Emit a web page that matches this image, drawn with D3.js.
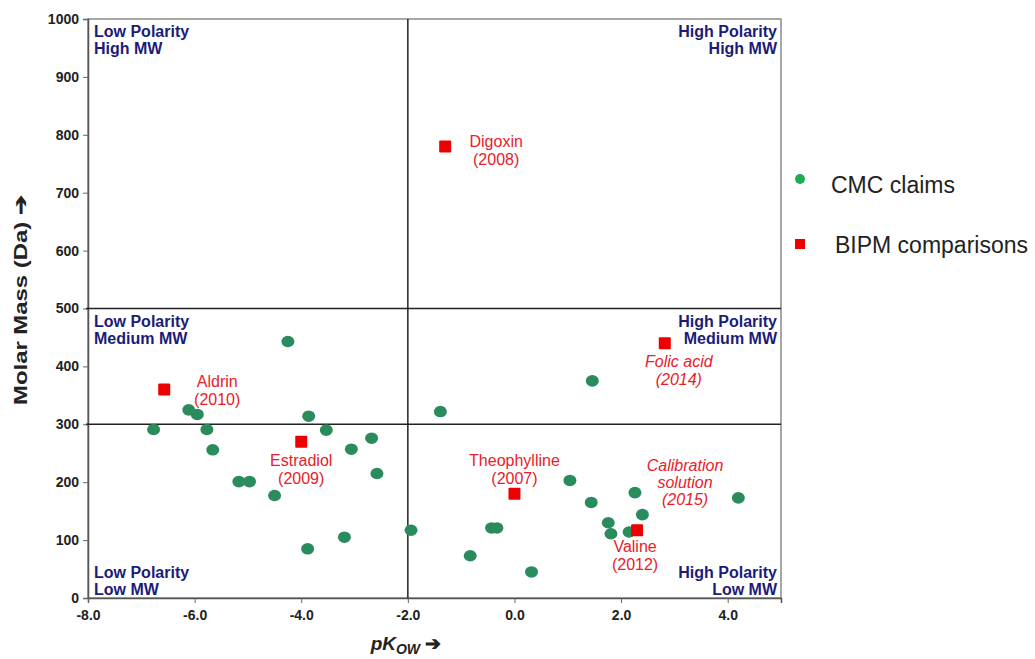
<!DOCTYPE html>
<html>
<head>
<meta charset="utf-8">
<script src="https://cdn.jsdelivr.net/npm/d3@7"></script>
<style>
  body { margin: 0; background: #fff; }
  svg { font-family: Arial, "Liberation Sans", sans-serif; }
</style>
</head>
<body>
<svg width="1035" height="659"></svg>
<script>
// CMC claims (green dots)
var cmcX = [-6.77, -6.11, -5.95, -5.77, -5.66, -5.17, -4.97, -4.50, -4.25, -3.86,
            -3.53, -3.06, -2.68, -2.58, -3.88, -3.19, -1.94, -1.39, -0.83, -0.43,
            -0.33, 0.32, 1.04, 1.46, 1.44, 1.76, 1.81, 2.15, 2.26, 2.40, 4.20];
var cmcY = [291, 325, 317, 291, 256, 201, 201, 177, 443, 314,
            290, 257, 276, 215, 85, 105, 117, 322, 73, 121,
            121, 45, 203, 375, 165, 130, 111, 114, 182, 144, 173];

// BIPM comparisons (red squares)
var bipmNames = ["Digoxin", "Aldrin", "Estradiol", "Theophylline", "Folic acid", "Valine"];
var bipmYears = ["(2008)", "(2010)", "(2009)", "(2007)", "(2014)", "(2012)"];
var bipmX = [-1.3, -6.57, -4.0, 0.0, 2.82, 2.3];
var bipmY = [780, 360, 270, 180, 440, 117];

var xTicks = [-8, -6, -4, -2, 0, 2, 4];
var yTicks = [0, 100, 200, 300, 400, 500, 600, 700, 800, 900, 1000];

// quadrant dividers
var splitX = [-2];
var splitY = [300, 500];

var svg = d3.select("svg");
var pLeft = 88, pRight = 781, pTop = 19, pBottom = 598;

var x = d3.scaleLinear().domain([-8, 5]).range([pLeft, pRight]);
var y = d3.scaleLinear().domain([0, 1000]).range([pBottom, pTop]);

// frame
svg.append("rect")
  .attr("x", pLeft).attr("y", pTop)
  .attr("width", pRight - pLeft).attr("height", pBottom - pTop)
  .attr("fill", "none").attr("stroke", "#8a8a8a").attr("stroke-width", 1.5);

// axes
var yAxis = svg.append("g")
  .attr("transform", "translate(" + pLeft + ",0)")
  .call(d3.axisLeft(y).tickValues(yTicks).tickFormat(function(d) { return String(d); })
    .tickSize(5).tickPadding(4));
var xAxis = svg.append("g")
  .attr("transform", "translate(0," + pBottom + ")")
  .call(d3.axisBottom(x).tickValues(xTicks).tickFormat(function(d) { return d.toFixed(1); })
    .tickSize(5).tickPadding(7));

[xAxis, yAxis].forEach(function(a) {
  a.select(".domain").attr("stroke", "#555").attr("stroke-width", 1.5);
  a.selectAll(".tick line").attr("stroke", "#666");
  a.selectAll("text").attr("font-size", 14).attr("font-weight", "bold").attr("fill", "#222");
});

// quadrant lines
svg.selectAll(".hsplit")
  .data(splitY).enter()
  .append("line")
  .attr("x1", pLeft - 2).attr("x2", pRight)
  .attr("y1", function(d) { return y(d); })
  .attr("y2", function(d) { return y(d); })
  .attr("stroke", "#222").attr("stroke-width", 1.5);
svg.selectAll(".vsplit")
  .data(splitX).enter()
  .append("line")
  .attr("x1", function(d) { return x(d); })
  .attr("x2", function(d) { return x(d); })
  .attr("y1", pTop).attr("y2", pBottom)
  .attr("stroke", "#222").attr("stroke-width", 1.5);

// quadrant labels
var quad = [
  { l: ["Low Polarity", "High MW"], side: "left", v: 1000 },
  { l: ["High Polarity", "High MW"], side: "right", v: 1000 },
  { l: ["Low Polarity", "Medium MW"], side: "left", v: 500 },
  { l: ["High Polarity", "Medium MW"], side: "right", v: 500 },
  { l: ["Low Polarity", "Low MW"], side: "left", v: 66 },
  { l: ["High Polarity", "Low MW"], side: "right", v: 66 }
];
quad.forEach(function(q) {
  var t = svg.append("text")
    .attr("font-size", 16).attr("font-weight", "bold").attr("fill", "#1c1c78")
    .attr("text-anchor", q.side == "left" ? "start" : "end");
  q.l.forEach(function(s, i) {
    t.append("tspan")
      .attr("x", q.side == "left" ? pLeft + 6 : pRight - 4)
      .attr("y", y(q.v) + 18 + i * 17)
      .text(s);
  });
});

// green dots
svg.selectAll(".cmc")
  .data(cmcX).enter()
  .append("ellipse")
  .attr("cx", function(d) { return x(d); })
  .attr("cy", function(d, i) { return y(cmcY[i]); })
  .attr("rx", 6.5).attr("ry", 5.8)
  .attr("fill", "#2a8c5c");

// red squares
var sq = 12;
svg.selectAll(".bipm")
  .data(bipmX).enter()
  .append("rect")
  .attr("x", function(d) { return x(d) - sq / 2; })
  .attr("y", function(d, i) { return y(bipmY[i]) - sq / 2; })
  .attr("width", sq).attr("height", sq)
  .attr("rx", 1)
  .attr("fill", "#ee0000");

// label offsets from their squares [dx, dy, italic]
var labelPos = [[51, 1, false], [53, -3, false], [0, 24, false], [0, -28, false], [14, 24, true], [-2, 22, false]];
bipmNames.forEach(function(n, i) {
  var p = labelPos[i];
  var t = svg.append("text")
    .attr("font-size", 16).attr("fill", "#e8202a")
    .attr("text-anchor", "middle")
    .attr("font-style", p[2] ? "italic" : "normal");
  [n, bipmYears[i]].forEach(function(s, j) {
    t.append("tspan")
      .attr("x", x(bipmX[i]) + p[0])
      .attr("y", y(bipmY[i]) + p[1] + j * 18)
      .text(s);
  });
});

// calibration solution note
var cal = svg.append("text")
  .attr("font-size", 16).attr("fill", "#e8202a")
  .attr("text-anchor", "middle").attr("font-style", "italic");
["Calibration", "solution", "(2015)"].forEach(function(s, j) {
  cal.append("tspan")
    .attr("x", x(3.2))
    .attr("y", y(220) + j * 17)
    .text(s);
});

// axis titles
var xt = svg.append("text")
  .attr("x", 406).attr("y", 650)
  .attr("text-anchor", "middle")
  .attr("font-size", 19).attr("font-weight", "bold").attr("fill", "#222");
xt.append("tspan").attr("font-style", "italic").text("pK");
xt.append("tspan").attr("font-style", "italic").attr("font-size", 14).attr("dy", 4).text("OW");
xt.append("tspan").attr("dy", -4).text(" \u2794");

svg.append("text")
  .attr("transform", "translate(27,300) rotate(-90)")
  .attr("text-anchor", "middle")
  .attr("font-size", 19).attr("font-weight", "bold").attr("fill", "#222")
  .attr("textLength", 210).attr("lengthAdjust", "spacingAndGlyphs")
  .text("Molar Mass (Da) \u2794");

// legend
var legend = svg.append("g");
legend.append("circle")
  .attr("cx", 800).attr("cy", 179).attr("r", 5)
  .attr("fill", "#1faa55");
legend.append("text")
  .attr("x", 831).attr("y", 193)
  .attr("font-size", 23).attr("fill", "#222")
  .text("CMC claims");
legend.append("rect")
  .attr("x", 795).attr("y", 239).attr("width", 10).attr("height", 10)
  .attr("fill", "#ee0000");
legend.append("text")
  .attr("x", 835).attr("y", 253)
  .attr("font-size", 23).attr("fill", "#222")
  .text("BIPM comparisons");
</script>
</body>
</html>
